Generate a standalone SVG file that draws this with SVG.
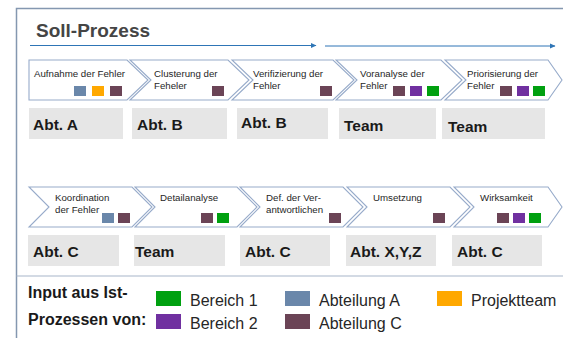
<svg xmlns="http://www.w3.org/2000/svg" width="563" height="338" viewBox="0 0 563 338">
<style>
.chev{fill:#ffffff;stroke:#97abca;stroke-width:1.1}
.box{fill:#e6e6e6}
.ct{font-family:"Liberation Sans",Arial,sans-serif;font-size:9.7px;fill:#262626}
.bt{font-family:"Liberation Sans",Arial,sans-serif;font-size:15.5px;font-weight:bold;fill:#1a1a1a}
.lt{font-family:"Liberation Sans",Arial,sans-serif;font-size:16px;fill:#262626}
.lb{font-family:"Liberation Sans",Arial,sans-serif;font-size:16px;font-weight:bold;fill:#1a1a1a}
.title{font-family:"Liberation Sans",Arial,sans-serif;font-size:19px;font-weight:bold;fill:#454545}
.sA{fill:#6a87aa}.sO{fill:#ffa800}.sC{fill:#6b4456}.s2{fill:#7030a0}.s1{fill:#00a010}
.frame{fill:none;stroke:#8497b0;stroke-width:1.5}
.arr{fill:none;stroke:#2e75b6;stroke-width:1;marker-end:url(#ah)}
</style>
<defs>
<marker id="ah" markerWidth="6" markerHeight="6" refX="5" refY="3" orient="auto" markerUnits="userSpaceOnUse">
<path d="M0,0.5 L5.5,3 L0,5.5 Z" fill="#2e75b6"/>
</marker>
</defs>
<rect width="563" height="338" fill="#ffffff"/>
<path class="frame" d="M16.5,338 V8.5 H563"/>
<line x1="16.5" y1="276" x2="563" y2="276" stroke="#a8b6ca" stroke-width="1.2"/>
<text class="title" x="36" y="37">Soll-Prozess</text>
<g id="connectors">
<line class="arr" x1="30" y1="45.5" x2="316" y2="45.5"/>
<line class="arr" x1="325" y1="46" x2="555" y2="46"/>
</g>
<g id="n1">
<path class="chev" d="M29,60 H127 L148,80 L127,100 H29 Z"/>
<text class="ct" x="34" y="77">Aufnahme der Fehler</text>
<rect class="sA" x="74" y="86" width="12" height="10"/><rect class="sO" x="92" y="86" width="12" height="10"/><rect class="sC" x="110" y="86" width="12" height="10"/>
<rect class="box" x="29" y="108" width="94" height="31"/>
<text class="bt" x="33" y="130">Abt. A</text>
</g>
<g id="n2">
<path class="chev" d="M130,60 H228 L249,80 L228,100 H130 L151,80 Z"/>
<text class="ct" x="154" y="77">Clusterung der</text>
<text class="ct" x="154" y="89">Feheler</text>
<rect class="sC" x="212" y="86" width="12" height="10"/>
<rect class="box" x="132" y="108" width="95" height="31"/>
<text class="bt" x="137" y="130">Abt. B</text>
</g>
<g id="n3">
<path class="chev" d="M232,60 H333 L354,80 L333,100 H232 L253,80 Z"/>
<text class="ct" x="253" y="77">Verifizierung der</text>
<text class="ct" x="253" y="89">Fehler</text>
<rect class="sC" x="320" y="86" width="12" height="10"/>
<rect class="box" x="237" y="108" width="91" height="31"/>
<text class="bt" x="241" y="128">Abt. B</text>
</g>
<g id="n4">
<path class="chev" d="M336,60 H441 L462,80 L441,100 H336 L357,80 Z"/>
<text class="ct" x="360" y="77">Voranalyse der</text>
<text class="ct" x="360" y="89">Fehler</text>
<rect class="sC" x="393" y="86" width="12" height="10"/><rect class="s2" x="410" y="86" width="12" height="10"/><rect class="s1" x="427" y="86" width="12" height="10"/>
<rect class="box" x="339" y="108" width="97" height="31"/>
<text class="bt" x="344" y="131">Team</text>
</g>
<g id="n5">
<path class="chev" d="M445,60 H548 L562,80 L548,100 H445 L466,80 Z"/>
<text class="ct" x="467" y="77">Priorisierung der</text>
<text class="ct" x="467" y="89">Fehler</text>
<rect class="sC" x="500" y="86" width="12" height="10"/><rect class="s2" x="517" y="86" width="12" height="10"/><rect class="s1" x="533" y="86" width="12" height="10"/>
<rect class="box" x="442" y="108" width="103" height="31"/>
<text class="bt" x="448" y="132">Team</text>
</g>
<g id="n6">
<path class="chev" d="M29,187 H132 L152,207 L132,227 H29 L49,207 Z"/>
<text class="ct" x="55" y="201">Koordination</text>
<text class="ct" x="55" y="213">der Fehler</text>
<rect class="sA" x="102" y="213" width="12" height="10"/><rect class="sC" x="118" y="213" width="12" height="10"/>
<rect class="box" x="28" y="235" width="91" height="31"/>
<text class="bt" x="33" y="257">Abt. C</text>
</g>
<g id="n7">
<path class="chev" d="M135,187 H237 L257,207 L237,227 H135 L155,207 Z"/>
<text class="ct" x="160" y="201">Detailanalyse</text>
<rect class="sC" x="201" y="213" width="12" height="10"/><rect class="s1" x="217" y="213" width="12" height="10"/>
<rect class="box" x="134" y="235" width="91" height="31"/>
<text class="bt" x="135" y="257">Team</text>
</g>
<g id="n8">
<path class="chev" d="M240,187 H343 L363,207 L343,227 H240 L260,207 Z"/>
<text class="ct" x="266" y="201">Def. der Ver-</text>
<text class="ct" x="266" y="213">antwortlichen</text>
<rect class="sC" x="329" y="213" width="12" height="10"/>
<rect class="box" x="240" y="235" width="90" height="31"/>
<text class="bt" x="245" y="257">Abt. C</text>
</g>
<g id="n9">
<path class="chev" d="M347,187 H450 L470,207 L450,227 H347 L367,207 Z"/>
<text class="ct" x="373" y="201">Umsetzung</text>
<rect class="sC" x="433" y="213" width="12" height="10"/>
<rect class="box" x="346" y="235" width="90" height="31"/>
<text class="bt" x="350" y="257">Abt. X,Y,Z</text>
</g>
<g id="n10">
<path class="chev" d="M454,187 H548 L562,207 L548,227 H454 L474,207 Z"/>
<text class="ct" x="480" y="201">Wirksamkeit</text>
<rect class="sC" x="497" y="213" width="12" height="10"/><rect class="s2" x="513" y="213" width="12" height="10"/><rect class="s1" x="529" y="213" width="12" height="10"/>
<rect class="box" x="452" y="235" width="90" height="31"/>
<text class="bt" x="457" y="257">Abt. C</text>
</g>
<g id="legend">
<text class="lb" x="28" y="298">Input aus Ist-</text>
<text class="lb" x="28" y="325">Prozessen von:</text>
<rect class="s1" x="156" y="291" width="25" height="15"/>
<text class="lt" x="190" y="306">Bereich 1</text>
<rect class="s2" x="156" y="314" width="25" height="15"/>
<text class="lt" x="190" y="329">Bereich 2</text>
<rect class="sA" x="285" y="291" width="25" height="15"/>
<text class="lt" x="319" y="306">Abteilung A</text>
<rect class="sC" x="285" y="314" width="25" height="15"/>
<text class="lt" x="319" y="329">Abteilung C</text>
<rect class="sO" x="437" y="291" width="25" height="15"/>
<text class="lt" x="471" y="306">Projektteam</text>
</g>
</svg>
